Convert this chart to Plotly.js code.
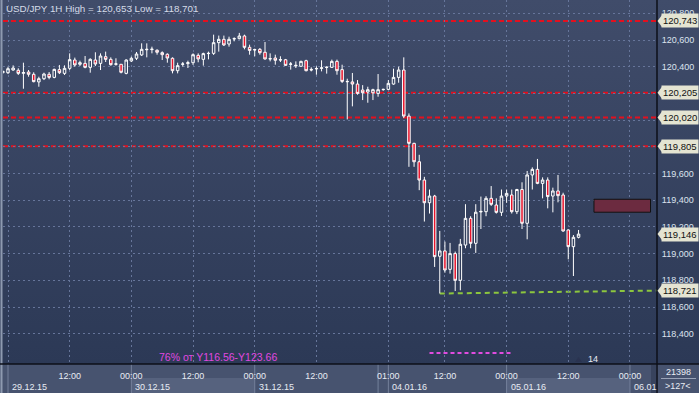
<!DOCTYPE html>
<html>
<head>
<meta charset="utf-8">
<script src="https://cdn.plot.ly/plotly-3.0.1.min.js"></script>
<style>
html,body{margin:0;padding:0;background:#3a4664;}
#chart{width:699px;height:393px;background:linear-gradient(to bottom,#404c6a 0px,#2c3956 364px,#47536f 364px,#47536f 393px);}
</style>
</head>
<body>
<div id="chart"></div>
<script>
// hourly bars, bar 0 = 29.12.15 00:00 (bar -1 partially visible)
const openP = [120.355,120.355,120.375,120.373,120.350,120.360,120.343,120.286,120.310,120.343,120.320,120.378,120.350,120.388,120.450,120.418,120.425,120.395,120.450,120.425,120.475,120.455,120.418,120.418,120.350,120.443,120.463,120.488,120.527,120.528,120.523,120.505,120.493,120.463,120.370,120.418,120.423,120.430,120.485,120.455,120.498,120.500,120.580,120.605,120.570,120.608,120.610,120.630,120.545,120.525,120.530,120.508,120.458,120.465,120.450,120.452,120.418,120.406,120.403,120.445,120.380,120.384,120.388,120.394,120.395,120.440,120.378,120.290,120.286,120.270,120.225,120.210,120.205,120.200,120.228,120.230,120.270,120.320,120.375,120.030,119.826,119.688,119.551,119.381,119.431,118.980,119.020,118.882,119.000,118.800,119.064,119.264,119.077,119.312,119.314,119.414,119.364,119.309,119.431,119.439,119.314,119.480,119.227,119.589,119.631,119.526,119.551,119.431,119.469,119.439,119.177,119.052,119.122];
const highP = [120.370,120.400,120.410,120.388,120.430,120.375,120.358,120.325,120.355,120.360,120.385,120.413,120.410,120.500,120.468,120.445,120.480,120.463,120.508,120.500,120.513,120.470,120.463,120.420,120.455,120.475,120.510,120.575,120.575,120.550,120.530,120.515,120.500,120.470,120.430,120.435,120.445,120.500,120.500,120.505,120.513,120.640,120.633,120.633,120.625,120.620,120.653,120.640,120.565,120.535,120.540,120.585,120.500,120.490,120.478,120.458,120.435,120.440,120.445,120.452,120.395,120.403,120.448,120.403,120.453,120.453,120.415,120.310,120.353,120.300,120.262,120.250,120.235,120.345,120.235,120.300,120.385,120.400,120.470,120.050,119.830,119.740,119.575,119.480,119.440,119.170,119.090,119.080,119.015,119.110,119.370,119.280,119.370,119.427,119.430,119.506,119.414,119.480,119.480,119.480,119.485,119.534,119.619,119.646,119.709,119.571,119.571,119.494,119.589,119.456,119.182,119.139,119.177];
const lowP = [120.350,120.345,120.370,120.338,120.235,120.325,120.283,120.250,120.300,120.306,120.313,120.345,120.338,120.375,120.400,120.405,120.388,120.355,120.405,120.375,120.435,120.408,120.408,120.350,120.343,120.435,120.450,120.480,120.470,120.500,120.490,120.450,120.430,120.350,120.350,120.400,120.390,120.413,120.433,120.408,120.455,120.488,120.513,120.555,120.550,120.590,120.605,120.530,120.490,120.478,120.490,120.453,120.440,120.415,120.435,120.408,120.378,120.390,120.400,120.365,120.365,120.340,120.365,120.348,120.390,120.340,120.278,120.005,120.103,120.190,120.150,120.130,120.150,120.175,120.220,120.225,120.265,120.280,120.015,119.650,119.650,119.475,119.240,119.300,118.900,118.701,118.857,118.850,118.720,118.725,119.040,119.040,119.005,119.184,119.280,119.357,119.300,119.282,119.380,119.300,119.296,119.184,119.107,119.480,119.520,119.414,119.339,119.309,119.384,119.164,118.957,118.832,119.114];
const closeP = [120.365,120.385,120.390,120.350,120.356,120.343,120.288,120.310,120.345,120.320,120.380,120.355,120.388,120.453,120.413,120.430,120.395,120.455,120.420,120.480,120.455,120.415,120.421,120.358,120.450,120.463,120.495,120.530,120.530,120.531,120.508,120.490,120.465,120.370,120.408,120.420,120.430,120.490,120.458,120.498,120.500,120.580,120.605,120.563,120.605,120.610,120.630,120.545,120.522,120.528,120.505,120.458,120.460,120.448,120.452,120.410,120.420,120.410,120.440,120.370,120.376,120.386,120.391,120.396,120.440,120.370,120.290,120.288,120.270,120.200,120.205,120.228,120.228,120.228,120.230,120.275,120.320,120.375,120.030,119.826,119.688,119.551,119.381,119.431,118.977,119.020,118.877,119.000,118.800,119.070,119.264,119.077,119.310,119.316,119.414,119.369,119.309,119.431,119.451,119.314,119.480,119.227,119.589,119.631,119.526,119.551,119.427,119.469,119.434,119.169,119.052,119.122,119.146];
const firstBar = -1;

const timeTickBars = [0,12,24,36,48,60,74,85,97,109,121];
const timeTickLabels = ["00:00","12:00","00:00","12:00","00:00","12:00","01:00","12:00","00:00","12:00","00:00"];
const dateLabels = ["29.12.15","30.12.15","31.12.15","04.01.16","05.01.16","06.01"];
const dateBars = [0,24,48,74,97,121];

const priceTicks = [118.4,118.6,118.8,119.0,119.2,119.4,119.6,119.8,120.0,120.2,120.4,120.6,120.8];
const hiddenTicks = [119.8,120.0,120.2]; // covered by price tags in the reference
const levelLines = [120.743,120.205,120.020,119.805];
const lastPrice = 119.146;
const trendFrom = [84,118.701];
const trendTo = [126.26,118.723];
const trendTag = 118.721;
const zoneBox = {x0:114,x1:125,y0:119.310,y1:119.407};
const fiboLine = {x0:82,x1:98.2,y:118.255};

const titleText = "USD/JPY 1H High = 120,653 Low = 118,701";
const fiboText = "76% от Y116.56-Y123.66";

const xs = openP.map((_,k)=>k+firstBar);
const fmt = v => v.toFixed(3).replace('.',',');

const W=699,H=393,L=3,R=42,T=0,B=29;
const PW=W-L-R, PH=H-T-B;
const px = x => (x-L)/PW;
const py = y => (H-B-y)/PH;
const FONT = "Liberation Sans, Arial, sans-serif";

const shapes = [];
const annotations = [];

[[24,48],[97,121]].forEach(([a,b])=>{
  shapes.push({type:'rect',xref:'x',yref:'paper',x0:a,x1:b,y0:py(393),y1:py(378),fillcolor:'#56627e',line:{width:0},layer:'below'});
});
[0,24,48,72,74,97,121].forEach(b=>{
  shapes.push({type:'line',xref:'x',yref:'paper',x0:b,x1:b,y0:py(393),y1:py(364),line:{color:'#74809b',width:1},layer:'below'});
});
levelLines.forEach(v=>{
  shapes.push({type:'line',xref:'paper',yref:'y',x0:0,x1:1,y0:v,y1:v,line:{color:'#e3101f',width:2,dash:'5px,3px'},layer:'below'});
});
shapes.push({type:'line',xref:'x',yref:'y',x0:trendFrom[0],y0:trendFrom[1],x1:trendTo[0],y1:trendTo[1],line:{color:'#8cc63e',width:2,dash:'5px,4px'},layer:'below'});
shapes.push({type:'line',xref:'x',yref:'y',x0:fiboLine.x0,x1:fiboLine.x1,y0:fiboLine.y,y1:fiboLine.y,line:{color:'#e04ce0',width:2,dash:'4px,3px'}});
shapes.push({type:'rect',xref:'x',yref:'y',x0:zoneBox.x0,x1:zoneBox.x1,y0:zoneBox.y0,y1:zoneBox.y1,fillcolor:'#6c2b40',line:{color:'#111',width:1}});
shapes.push({type:'line',xref:'paper',yref:'paper',x0:px(1.5),x1:px(1.5),y0:py(393),y1:py(0),line:{color:'#8e9ab0',width:2}});
shapes.push({type:'line',xref:'paper',yref:'paper',x0:1,x1:1,y0:py(393),y1:py(0),line:{color:'#0d0f18',width:1.5}});
shapes.push({type:'line',xref:'paper',yref:'paper',x0:px(0),x1:px(699),y0:0,y1:0,line:{color:'#0d0f18',width:1.5}});
shapes.push({type:'line',xref:'paper',yref:'paper',x0:px(661),x1:px(696),y0:py(378.5),y1:py(378.5),line:{color:'#9aa4b8',width:1}});
shapes.push({type:'rect',xref:'paper',yref:'paper',x0:px(651),x1:px(656),y0:py(393),y1:py(365),fillcolor:'#38435d',line:{width:0}});
shapes.push({type:'path',xref:'paper',yref:'paper',path:`M ${px(575)} ${py(362)} L ${px(582)} ${py(362)} L ${px(578.5)} ${py(357)} Z`,fillcolor:'#2a3350',line:{width:0}});

const tagLevels = levelLines.concat([lastPrice,trendTag]);
tagLevels.forEach(v=>{
  shapes.push({type:'path',xref:'paper',yref:'y',
    path:`M ${px(657.5)} ${v} L ${px(662)} ${v+0.045} L ${px(662)} ${v-0.045} Z`,
    fillcolor:'#e4e4d2',line:{width:0}});
  annotations.push({xref:'paper',yref:'y',x:px(661),y:v,xanchor:'left',yanchor:'middle',text:fmt(v),showarrow:false,
    bgcolor:'#e4e4d2',borderpad:1,font:{family:FONT,size:9.5,color:'#111'}});
});

annotations.push({xref:'paper',yref:'paper',x:px(4),y:py(1),xanchor:'left',yanchor:'top',text:titleText,showarrow:false,font:{family:FONT,size:9.8,color:'#d6dce8'}});
annotations.push({xref:'paper',yref:'paper',x:px(218),y:py(357),xanchor:'center',yanchor:'middle',text:fiboText,showarrow:false,font:{family:FONT,size:10.5,color:'#e048e0'}});
annotations.push({xref:'paper',yref:'paper',x:px(586),y:py(359),xanchor:'left',yanchor:'middle',text:'14',showarrow:false,font:{family:FONT,size:9,color:'#e8ecf4'}});
annotations.push({xref:'paper',yref:'paper',x:px(678),y:py(372),xanchor:'center',yanchor:'middle',text:'21398',showarrow:false,font:{family:FONT,size:9,color:'#e8ecf4'}});
annotations.push({xref:'paper',yref:'paper',x:px(678),y:py(386),xanchor:'center',yanchor:'middle',text:'>127<',showarrow:false,font:{family:FONT,size:9,color:'#e8ecf4'}});
dateLabels.forEach((t,k)=>{
  annotations.push({xref:'x',yref:'paper',x:dateBars[k],y:py(387),xanchor:'left',yanchor:'middle',xshift:2,text:t,showarrow:false,font:{family:FONT,size:9,color:'#e8ecf4'}});
});

const trace = {
  type:'candlestick', x:xs, open:openP, high:highP, low:lowP, close:closeP,
  increasing:{line:{color:'#ffffff',width:1},fillcolor:'rgba(0,0,0,0)'},
  decreasing:{line:{color:'#ffffff',width:1},fillcolor:'#e8142c'},
  whiskerwidth:0, hoverinfo:'skip', showlegend:false
};

const layout = {
  width:W,height:H,margin:{l:L,r:R,t:T,b:B},
  paper_bgcolor:'rgba(0,0,0,0)',plot_bgcolor:'rgba(0,0,0,0)',
  showlegend:false,
  xaxis:{type:'linear',range:[-0.9728,126.26],rangeslider:{visible:false},
    tickmode:'array',tickvals:timeTickBars,ticktext:timeTickLabels,
    showgrid:true,gridcolor:'#66759a',griddash:'2px,3px',gridwidth:1,zeroline:false,
    ticks:'outside',ticklen:3,tickcolor:'rgba(0,0,0,0)',showline:false,
    tickfont:{family:FONT,size:9,color:'#e8ecf4'}},
  yaxis:{side:'right',range:[118.173,120.8996],tickmode:'array',tickvals:priceTicks,
    ticktext:priceTicks.map(v=>hiddenTicks.includes(v)?'':fmt(v)),
    showgrid:true,gridcolor:'#66759a',griddash:'2px,3px',gridwidth:1,zeroline:false,
    ticks:'outside',ticklen:2,tickcolor:'rgba(0,0,0,0)',showline:false,
    tickfont:{family:FONT,size:9,color:'#dce3ee'}},
  shapes:shapes, annotations:annotations
};
Plotly.newPlot('chart',[trace],layout,{staticPlot:true,displayModeBar:false});
</script>
</body>
</html>
